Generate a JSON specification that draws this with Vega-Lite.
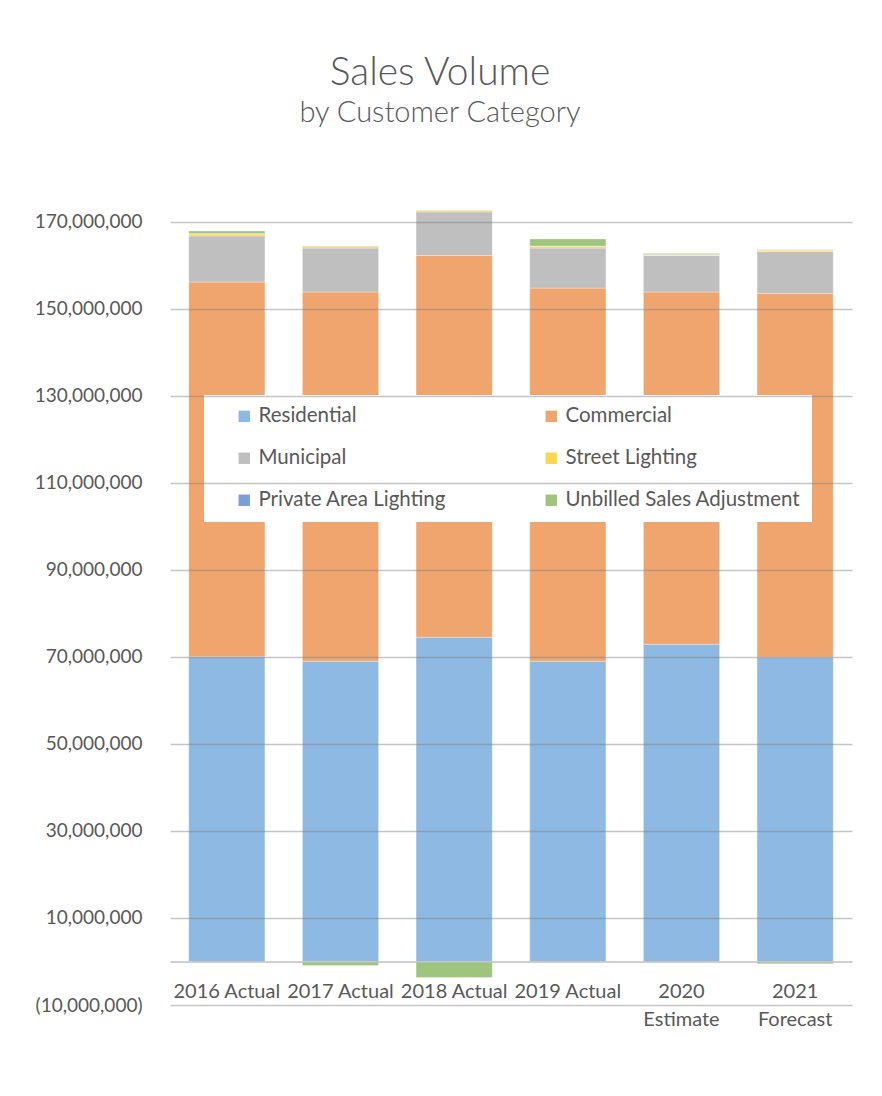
{
  "$schema": "https://vega.github.io/schema/vega-lite/v6.json",
  "autosize": "none",
  "width": 682,
  "height": 827,
  "padding": {"left": 170, "top": 178, "right": 30, "bottom": 91},
  "background": "white",
  "title": {
    "text": "Sales Volume",
    "subtitle": "by Customer Category",
    "anchor": "middle",
    "dx": -71,
    "offset": 50,
    "font": "Lato",
    "fontSize": 39,
    "fontWeight": 300,
    "color": "#595959",
    "subtitleFont": "Lato",
    "subtitleFontSize": 29,
    "subtitleFontWeight": 300,
    "subtitleColor": "#595959",
    "subtitlePadding": 6
  },
  "config": {
    "view": {"stroke": null},
    "font": "Lato"
  },
  "data": {
    "values": [
      {"year": "2016 Actual", "category": "Residential", "ord": 1, "volume": 70000000},
      {"year": "2016 Actual", "category": "Commercial", "ord": 2, "volume": 86100000},
      {"year": "2016 Actual", "category": "Municipal", "ord": 3, "volume": 10600000},
      {"year": "2016 Actual", "category": "Street Lighting", "ord": 4, "volume": 450000},
      {"year": "2016 Actual", "category": "Private Area Lighting", "ord": 5, "volume": 100000},
      {"year": "2016 Actual", "category": "Unbilled Sales Adjustment", "ord": 6, "volume": 550000},
      {"year": "2017 Actual", "category": "Residential", "ord": 1, "volume": 69000000},
      {"year": "2017 Actual", "category": "Commercial", "ord": 2, "volume": 84800000},
      {"year": "2017 Actual", "category": "Municipal", "ord": 3, "volume": 10100000},
      {"year": "2017 Actual", "category": "Street Lighting", "ord": 4, "volume": 400000},
      {"year": "2017 Actual", "category": "Private Area Lighting", "ord": 5, "volume": 80000},
      {"year": "2017 Actual", "category": "Unbilled Sales Adjustment", "ord": 6, "volume": -950000},
      {"year": "2018 Actual", "category": "Residential", "ord": 1, "volume": 74500000},
      {"year": "2018 Actual", "category": "Commercial", "ord": 2, "volume": 87700000},
      {"year": "2018 Actual", "category": "Municipal", "ord": 3, "volume": 10000000},
      {"year": "2018 Actual", "category": "Street Lighting", "ord": 4, "volume": 320000},
      {"year": "2018 Actual", "category": "Private Area Lighting", "ord": 5, "volume": 70000},
      {"year": "2018 Actual", "category": "Unbilled Sales Adjustment", "ord": 6, "volume": -3700000},
      {"year": "2019 Actual", "category": "Residential", "ord": 1, "volume": 69000000},
      {"year": "2019 Actual", "category": "Commercial", "ord": 2, "volume": 85700000},
      {"year": "2019 Actual", "category": "Municipal", "ord": 3, "volume": 9200000},
      {"year": "2019 Actual", "category": "Street Lighting", "ord": 4, "volume": 400000},
      {"year": "2019 Actual", "category": "Private Area Lighting", "ord": 5, "volume": 80000},
      {"year": "2019 Actual", "category": "Unbilled Sales Adjustment", "ord": 6, "volume": 1600000},
      {"year": "2020 Estimate", "category": "Residential", "ord": 1, "volume": 72900000},
      {"year": "2020 Estimate", "category": "Commercial", "ord": 2, "volume": 80900000},
      {"year": "2020 Estimate", "category": "Municipal", "ord": 3, "volume": 8400000},
      {"year": "2020 Estimate", "category": "Street Lighting", "ord": 4, "volume": 150000},
      {"year": "2020 Estimate", "category": "Private Area Lighting", "ord": 5, "volume": 60000},
      {"year": "2020 Estimate", "category": "Unbilled Sales Adjustment", "ord": 6, "volume": 250000},
      {"year": "2021 Forecast", "category": "Residential", "ord": 1, "volume": 69900000},
      {"year": "2021 Forecast", "category": "Commercial", "ord": 2, "volume": 83600000},
      {"year": "2021 Forecast", "category": "Municipal", "ord": 3, "volume": 9600000},
      {"year": "2021 Forecast", "category": "Street Lighting", "ord": 4, "volume": 350000},
      {"year": "2021 Forecast", "category": "Private Area Lighting", "ord": 5, "volume": 60000},
      {"year": "2021 Forecast", "category": "Unbilled Sales Adjustment", "ord": 6, "volume": -500000}
    ]
  },
  "mark": {"type": "bar", "stroke": "white", "strokeWidth": 0.6, "strokeOpacity": 0.5},
  "encoding": {
    "x": {
      "field": "year",
      "type": "nominal",
      "sort": null,
      "scale": {"paddingInner": 0.33, "paddingOuter": 0.165},
      "axis": {
        "title": null,
        "labelAngle": 0,
        "labelFont": "Lato",
        "labelFontSize": 20,
        "labelColor": "#595959",
        "labelPadding": 20,
        "labelLineHeight": 28,
        "labelExpr": "datum.label == '2020 Estimate' ? ['2020', 'Estimate'] : datum.label == '2021 Forecast' ? ['2021', 'Forecast'] : datum.label",
        "ticks": false,
        "offset": -43.5,
        "domainColor": "#bfbfbf",
        "domainWidth": 1.5,
        "zindex": 1
      }
    },
    "y": {
      "field": "volume",
      "type": "quantitative",
      "aggregate": "sum",
      "stack": "zero",
      "scale": {"domain": [-10000000, 180000000], "nice": false, "zero": false},
      "axis": {
        "title": null,
        "values": [-10000000, 10000000, 30000000, 50000000, 70000000, 90000000, 110000000, 130000000, 150000000, 170000000],
        "labelExpr": "datum.value < 0 ? '(' + format(-datum.value, ',') + ')' : format(datum.value, ',')",
        "labelFont": "Lato",
        "labelFontSize": 19,
        "labelColor": "#595959",
        "labelPadding": 28,
        "ticks": false,
        "domain": false,
        "grid": true,
        "gridColor": "#808080",
        "gridOpacity": 0.45,
        "gridWidth": 1.5,
        "zindex": 1
      }
    },
    "color": {
      "field": "category",
      "type": "nominal",
      "scale": {
        "domain": ["Residential", "Municipal", "Private Area Lighting", "Commercial", "Street Lighting", "Unbilled Sales Adjustment"],
        "range": ["#8db9e2", "#bfbfbf", "#7a9fd6", "#f0a46e", "#ffd550", "#9ec47e"]
      },
      "legend": {
        "title": null,
        "orient": "none",
        "legendX": 34,
        "legendY": 217,
        "columns": 2,
        "gridAlign": "all",
        "columnPadding": 28,
        "rowPadding": 21,
        "padding": 11,
        "symbolOffset": 19,
        "fillColor": "white",
        "symbolType": "square",
        "symbolSize": 130,
        "symbolStrokeWidth": 0,
        "labelFont": "Lato",
        "labelFontSize": 20.5,
        "labelColor": "#595959",
        "labelOffset": 4,
        "labelLimit": 400
      }
    },
    "order": {"field": "ord", "type": "quantitative"}
  }
}
